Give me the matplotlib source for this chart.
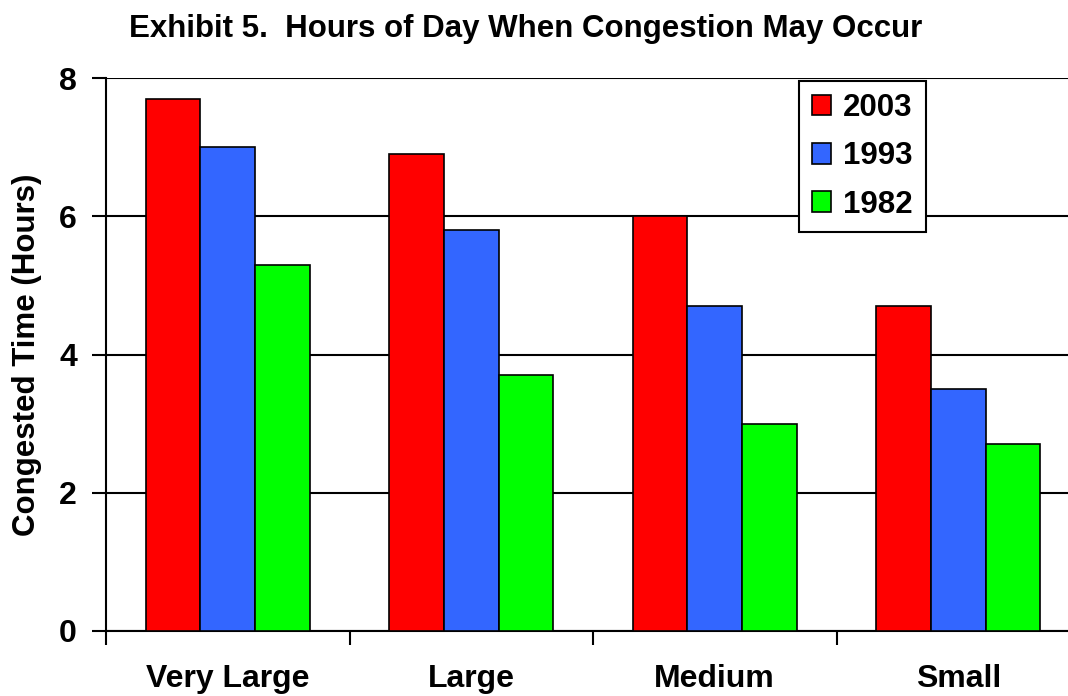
import numpy as np
import matplotlib.pyplot as plt

# Data
categories = ["Very Large", "Large", "Medium", "Small"]
years = ["2003", "1993", "1982"]
hours_2003 = [7.7, 6.9, 6.0, 4.7]
hours_1993 = [7.0, 5.8, 4.7, 3.5]
hours_1982 = [5.3, 3.7, 3.0, 2.7]
colors = ["#ff0000", "#3366ff", "#00ff00"]

plt.rcParams['font.family'] = ['Liberation Sans', 'DejaVu Sans']
plt.rcParams['font.weight'] = 'bold'

fig = plt.figure(figsize=(10.68, 6.96), dpi=100)
ax = fig.add_axes([106 / 1068, 65 / 696, 974 / 1068, 553 / 696])

x = np.arange(len(categories))
width = 0.224
for i, (vals, lab, c) in enumerate(zip([hours_2003, hours_1993, hours_1982], years, colors)):
    ax.bar(x + (i - 1) * width, vals, width, color=c, edgecolor='black',
           linewidth=1.2, label=lab, zorder=3)

ax.set_xlim(-0.5, len(categories) - 0.5)
ax.set_ylim(0, 8)
ax.set_yticks([0, 2, 4, 6, 8])
ax.yaxis.grid(True, color='black', linewidth=1.5, zorder=0)
ax.set_xticks(x - 0.5, minor=False)
ax.set_xticklabels([])
ax.set_xticks(x, minor=True)
ax.set_xticklabels(categories, minor=True, fontsize=23, fontweight='bold')
ax.tick_params(axis='x', which='minor', length=0, pad=24)
ax.tick_params(axis='x', which='major', length=10, width=1.5, direction='out')
ax.tick_params(axis='y', labelsize=23, length=10, width=1.5, pad=11)
for s in ['top', 'right']:
    ax.spines[s].set_visible(False)
ax.spines['left'].set_linewidth(1.5)
ax.spines['bottom'].set_linewidth(1.5)

ax.set_ylabel("Congested Time (Hours)", fontsize=22.5, fontweight='bold', labelpad=12)
fig.text(0.4925, 0.958, "Exhibit 5.  Hours of Day When Congestion May Occur",
         ha='center', va='center', fontsize=22.5, fontweight='bold')

leg = ax.legend(loc='upper left', bbox_to_anchor=(693 / 974, 0.995),
                frameon=True, fancybox=False, edgecolor='black', framealpha=1,
                handlelength=0.62, handleheight=0.62, handletextpad=0.4,
                labelspacing=0.58, borderpad=0.4, borderaxespad=0,
                prop={'weight': 'bold', 'size': 22.5})
leg.get_frame().set_linewidth(1.5)

fig.savefig("out.png", dpi=100)
